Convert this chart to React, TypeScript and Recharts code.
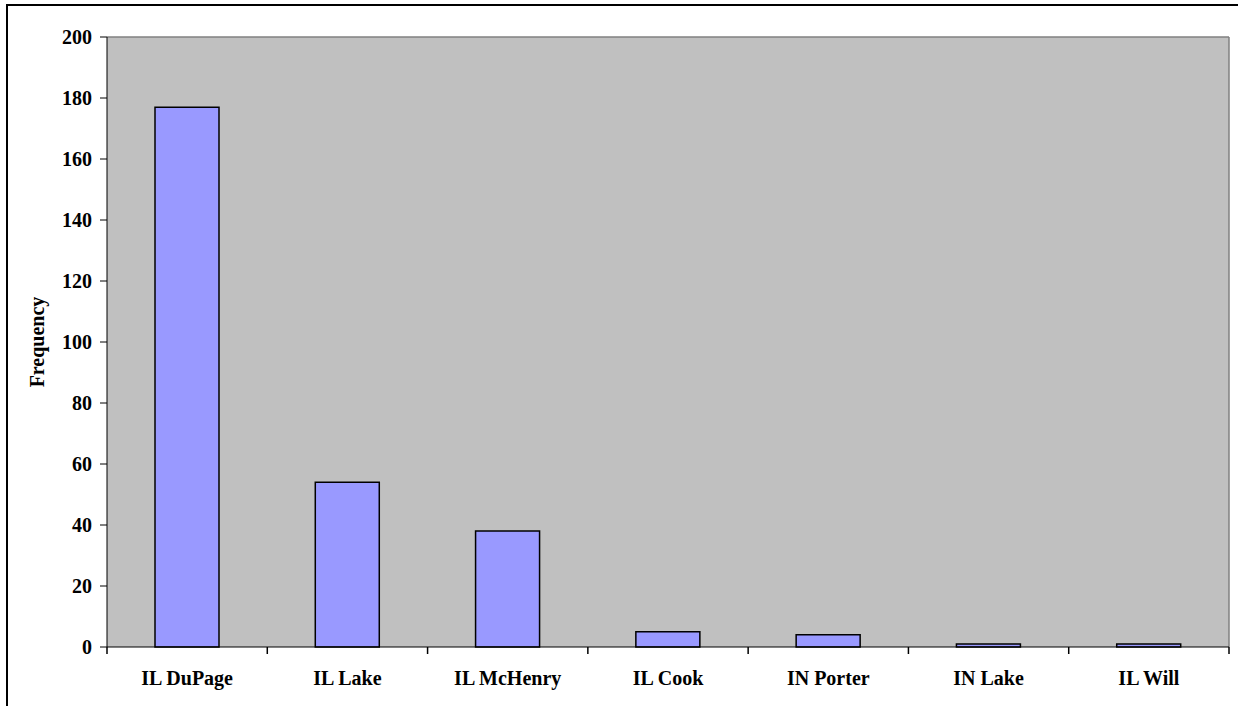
import React from "react";
import { BarChart, Bar, XAxis, YAxis, CartesianGrid, ReferenceLine } from "recharts";

const categories = ["IL DuPage", "IL Lake", "IL McHenry", "IL Cook", "IN Porter", "IN Lake", "IL Will"];
const frequency = [177, 54, 38, 5, 4, 1, 1];
const yTicks = [0, 20, 40, 60, 80, 100, 120, 140, 160, 180, 200];

const data = categories.map((name, i) => ({ name, value: frequency[i] }));

const FONT = "'Liberation Serif', 'Times New Roman', serif";
const CHART_W = 1238;
const CHART_H = 706;
const MARGIN = { top: 37, right: 9, bottom: 0, left: 0 };
const Y_AXIS_W = 107;
const PLOT_W = CHART_W - MARGIN.left - MARGIN.right - Y_AXIS_W;
const BAND = PLOT_W / categories.length;

function CategoryTick(props: any) {
  const { x, y, payload, index } = props;
  const half = BAND / 2;
  return (
    <g>
      {index === 0 && (
        <line x1={x - half} y1={y} x2={x - half} y2={y + 7} stroke="#000" strokeWidth={1.5} />
      )}
      <line x1={x + half} y1={y} x2={x + half} y2={y + 7} stroke="#000" strokeWidth={1.5} />
      <text
        x={x}
        y={y + 38}
        textAnchor="middle"
        fill="#000"
        style={{ fontFamily: FONT, fontWeight: "bold", fontSize: 20 }}
      >
        {payload.value}
      </text>
    </g>
  );
}

export default function App() {
  return (
    <div style={{ position: "absolute", left: 0, top: 0, width: CHART_W, height: CHART_H, overflow: "hidden", background: "#fff" }}>
      <div
        style={{
          position: "absolute",
          left: 6,
          top: 4,
          width: 1300,
          height: 800,
          border: "2px solid #000",
          boxSizing: "border-box",
        }}
      />
      <div style={{ position: "absolute", left: 0, top: 0 }}>
        <BarChart width={CHART_W} height={CHART_H} data={data} margin={MARGIN}>
          <CartesianGrid fill="#C0C0C0" horizontal={false} vertical={false} />
          <ReferenceLine y={200} stroke="#808080" strokeWidth={1.5} />
          <ReferenceLine x="IL Will" position="end" stroke="#808080" strokeWidth={1.5} />
          <XAxis
            dataKey="name"
            height={59}
            stroke="#000"
            tickLine={false}
            tickSize={0}
            tickMargin={0}
            interval={0}
            tick={<CategoryTick />}
          />
          <YAxis
            width={Y_AXIS_W}
            domain={[0, 200]}
            ticks={yTicks}
            interval={0}
            tickSize={7}
            tickMargin={8}
            stroke="#000"
            tick={{ fill: "#000", fontFamily: FONT, fontWeight: "bold", fontSize: 20 }}
            label={{
              value: "Frequency",
              angle: -90,
              position: "center",
              dx: -17,
              style: { fill: "#000", fontFamily: FONT, fontWeight: "bold", fontSize: 20 },
            }}
          />
          <Bar
            dataKey="value"
            fill="#9999FF"
            stroke="#000"
            strokeWidth={1.5}
            barSize={64}
            isAnimationActive={false}
          />
        </BarChart>
      </div>
    </div>
  );
}
